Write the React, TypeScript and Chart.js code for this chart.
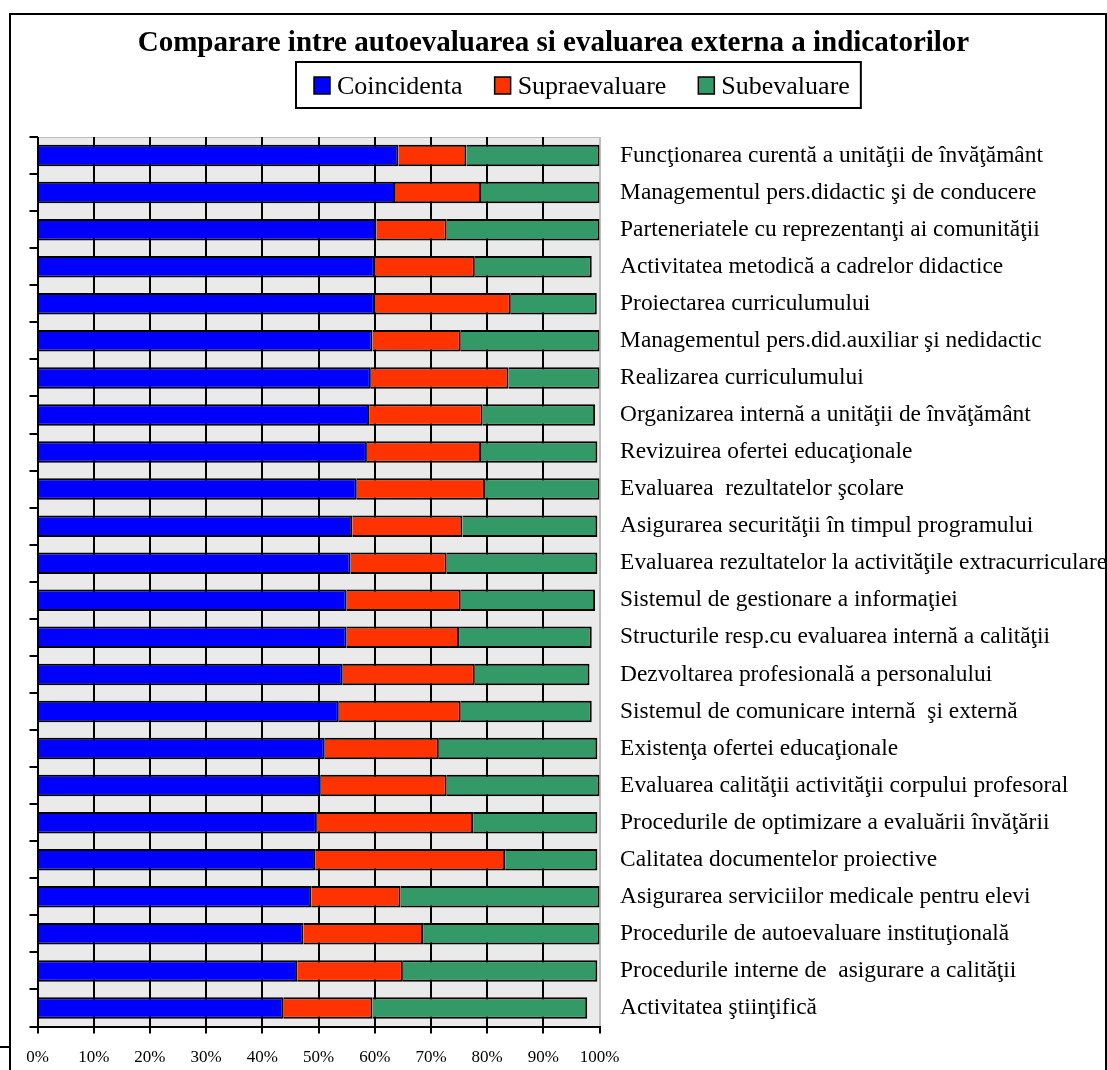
import React, { useEffect, useRef } from "react";
import { Chart, registerables } from "chart.js";

Chart.register(...registerables);

const titleText = "Comparare intre autoevaluarea si evaluarea externa a indicatorilor";

const categories = [
  "Funcţionarea curentă a unităţii de învăţământ",
  "Managementul pers.didactic şi de conducere",
  "Parteneriatele cu reprezentanţi ai comunităţii",
  "Activitatea metodică a cadrelor didactice",
  "Proiectarea curriculumului",
  "Managementul pers.did.auxiliar şi nedidactic",
  "Realizarea curriculumului",
  "Organizarea internă a unităţii de învăţământ",
  "Revizuirea ofertei educaţionale",
  "Evaluarea  rezultatelor şcolare",
  "Asigurarea securităţii în timpul programului",
  "Evaluarea rezultatelor la activităţile extracurriculare",
  "Sistemul de gestionare a informaţiei",
  "Structurile resp.cu evaluarea internă a calităţii",
  "Dezvoltarea profesională a personalului",
  "Sistemul de comunicare internă  şi externă",
  "Existenţa ofertei educaţionale",
  "Evaluarea calităţii activităţii corpului profesoral",
  "Procedurile de optimizare a evaluării învăţării",
  "Calitatea documentelor proiective",
  "Asigurarea serviciilor medicale pentru elevi",
  "Procedurile de autoevaluare instituţională",
  "Procedurile interne de  asigurare a calităţii",
  "Activitatea ştiinţifică",
];

const coincidenta = [
  64.2, 63.6, 60.3, 60.0, 60.0, 59.6, 59.3, 59.0, 58.6, 56.8, 56.0, 55.7,
  55.0, 55.0, 54.3, 53.6, 51.1, 50.4, 49.7, 49.4, 48.7, 47.3, 46.2, 43.8,
];
const supraevaluare = [
  12.1, 15.3, 12.5, 17.8, 24.2, 15.7, 24.5, 20.2, 20.3, 22.8, 19.6, 17.1,
  20.3, 20.0, 23.5, 21.7, 20.3, 22.4, 27.8, 33.8, 15.9, 21.3, 18.8, 15.8,
];
const subevaluare = [
  23.7, 21.1, 27.2, 20.8, 15.3, 24.7, 16.2, 20.0, 20.7, 20.4, 24.0, 26.8,
  23.9, 23.6, 20.4, 23.3, 28.2, 27.2, 22.1, 16.4, 35.4, 31.4, 34.6, 38.2,
];

const seriesNames = ["Coincidenta", "Supraevaluare", "Subevaluare"];
const seriesColors = ["#0000FF", "#FF3300", "#339966"];
const xTickStep = 10;
const xMin = 0;
const xMax = 100;

const W = 1107;
const H = 1070;
const FONT = '"Liberation Serif", "Times New Roman", serif';

const backgroundPlugin = {
  id: "bgFrame",
  beforeDraw(chart: any) {
    const { ctx, chartArea: a } = chart;
    ctx.save();
    ctx.fillStyle = "#FFFFFF";
    ctx.fillRect(0, 0, W, H);
    ctx.fillStyle = "#EAEAEA";
    ctx.fillRect(a.left, a.top, a.right - a.left, a.bottom - a.top);
    ctx.strokeStyle = "#BDBDBD";
    ctx.lineWidth = 1;
    ctx.strokeRect(a.left + 0.5, a.top + 0.5, a.right - a.left - 0.5, a.bottom - a.top);
    // outer frame
    ctx.strokeStyle = "#000000";
    ctx.lineWidth = 2;
    ctx.beginPath();
    ctx.moveTo(10, H + 5);
    ctx.lineTo(10, 14);
    ctx.lineTo(1106, 14);
    ctx.lineTo(1106, H + 5);
    ctx.stroke();
    ctx.beginPath();
    ctx.moveTo(0, 1047);
    ctx.lineTo(10, 1047);
    ctx.stroke();
    ctx.restore();
  },
};

const legendPlugin = {
  id: "boxedLegend",
  afterDraw(chart: any) {
    const ctx = chart.ctx;
    ctx.save();
    ctx.font = `26px ${FONT}`;
    ctx.textBaseline = "alphabetic";
    ctx.textAlign = "left";
    const sq = 16;
    const baseline = 94;
    let x = 314;
    let lastEnd = x;
    chart.data.datasets.forEach((ds: any) => {
      ctx.fillStyle = ds.backgroundColor;
      ctx.fillRect(x, 77, sq, 17);
      ctx.strokeStyle = "#000";
      ctx.lineWidth = 1.5;
      ctx.strokeRect(x, 77, sq, 17);
      ctx.fillStyle = "#000";
      const tx = x + sq + 7;
      ctx.fillText(ds.label, tx, baseline);
      const w = ctx.measureText(ds.label).width;
      lastEnd = tx + w;
      x = tx + w + 32;
    });
    ctx.strokeStyle = "#000";
    ctx.lineWidth = 2;
    ctx.strokeRect(296, 62, lastEnd + 11 - 296, 46);
    ctx.restore();
  },
};

export default function App() {
  const ref = useRef<HTMLCanvasElement | null>(null);

  useEffect(() => {
    if (!ref.current) return;
    const values = [coincidenta, supraevaluare, subevaluare];
    const chart = new Chart(ref.current, {
      type: "bar",
      data: {
        labels: categories,
        datasets: seriesNames.map((name, i) => ({
          label: name,
          data: values[i],
          backgroundColor: seriesColors[i],
          borderColor: "#000000",
          borderWidth: 2,
          borderSkipped: "start",
          barPercentage: 0.58,
          categoryPercentage: 1,
          xAxisID: "x",
          yAxisID: "y",
        })),
      },
      options: {
        indexAxis: "y",
        responsive: false,
        maintainAspectRatio: false,
        animation: false,
        layout: { padding: 0 },
        plugins: {
          legend: { display: false },
          tooltip: { enabled: false },
          title: {
            display: true,
            text: titleText,
            color: "#000000",
            font: { family: FONT, size: 29, weight: "bold" },
            padding: { top: 26.5, bottom: 75.7 },
          },
        },
        scales: {
          x: {
            type: "linear",
            stacked: true,
            position: "bottom",
            min: xMin,
            max: xMax,
            ticks: {
              stepSize: xTickStep,
              color: "#000000",
              font: { family: FONT, size: 17 },
              padding: 14,
              callback: (v: any) => v + "%",
            },
            grid: {
              color: (c: any) => (c.tick && c.tick.value === xMax ? "#BDBDBD" : "#000000"),
              tickColor: "#000000",
              lineWidth: 2,
              tickLength: 7,
              drawTicks: true,
            },
            border: { display: true, color: "#000000", width: 2 },
            afterFit: (s: any) => {
              s.height = 43.5;
            },
          },
          y: {
            type: "category",
            stacked: true,
            position: "right",
            offset: true,
            grid: { display: false, drawTicks: false, drawOnChartArea: false },
            border: { display: false },
            ticks: {
              color: "#000000",
              font: { family: FONT, size: 23.4 },
              padding: 20.5,
              autoSkip: false,
            },
            afterFit: (s: any) => {
              s.width = W - 599.6;
            },
          },
          yLeft: {
            type: "category",
            position: "left",
            offset: true,
            grid: {
              offset: true,
              drawOnChartArea: false,
              drawTicks: true,
              tickLength: 8,
              color: "#000000",
              lineWidth: 2,
            },
            border: { display: false },
            ticks: { display: false, autoSkip: false },
            afterFit: (s: any) => {
              s.width = 37.5;
            },
          },
        },
      },
      plugins: [backgroundPlugin, legendPlugin],
    } as any);
    return () => chart.destroy();
  }, []);

  return (
    <div style={{ position: "fixed", left: 0, top: 0, width: W, height: H, background: "#fff" }}>
      <canvas ref={ref} width={W} height={H} style={{ display: "block", width: W, height: H }} />
    </div>
  );
}
